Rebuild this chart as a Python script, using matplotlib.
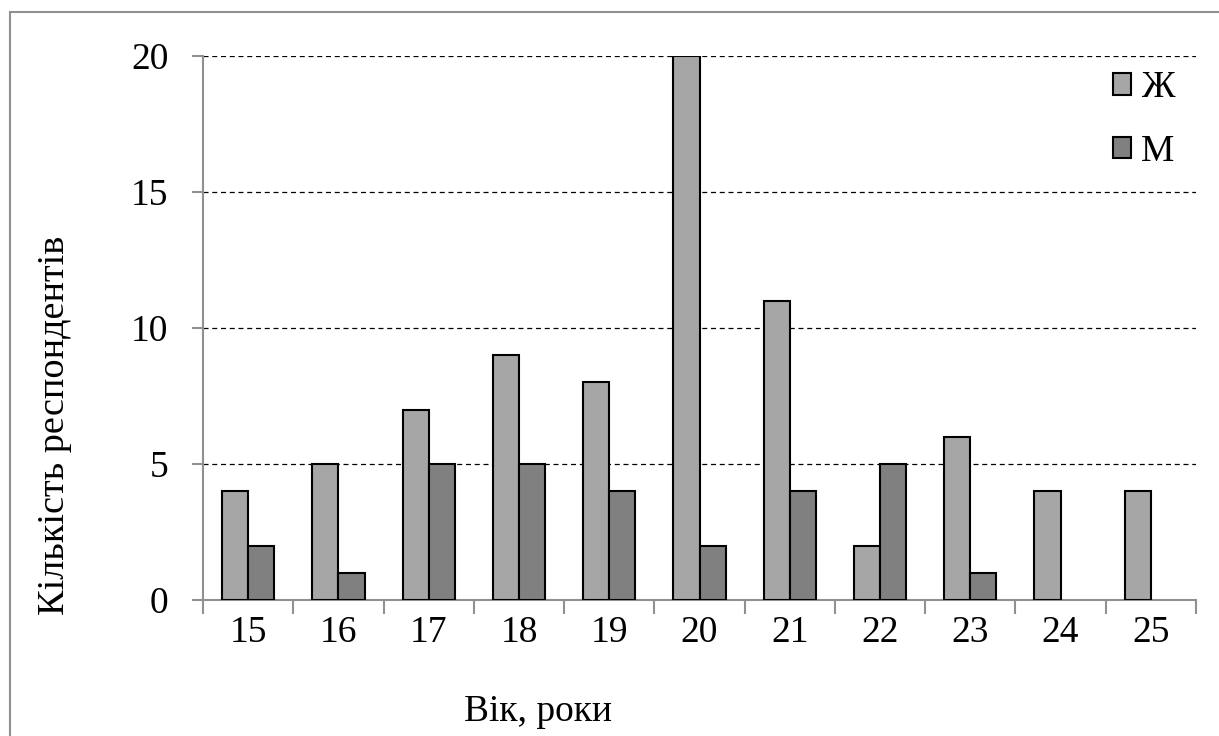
import numpy as np
import matplotlib.pyplot as plt
from matplotlib.patches import Rectangle

# Дані: вік та кількість респондентів
vik = [15, 16, 17, 18, 19, 20, 21, 22, 23, 24, 25]
zhinky = [4, 5, 7, 9, 8, 20, 11, 2, 6, 4, 4]
choloviky = [2, 1, 5, 5, 4, 2, 4, 5, 1, 0, 0]
y_ticks = [0, 5, 10, 15, 20]

plt.rcParams['font.family'] = ['Liberation Serif', 'DejaVu Serif']

fig = plt.figure(figsize=(12.19, 7.36), dpi=100)
ax = fig.add_axes([203/1219, 1-600/736, (1196-203)/1219, (600-56)/736])

x = np.arange(len(vik))
w = 0.29
ax.bar(x - w/2, zhinky, w, color='#a6a6a6', edgecolor='black', linewidth=1.5, label='Ж', zorder=3)
ax.bar(x + w/2, [v if v > 0 else np.nan for v in choloviky], w, color='#808080',
       edgecolor='black', linewidth=1.5, label='М', zorder=3)

ax.set_xlim(-0.5, len(vik) - 0.5)
ax.set_ylim(0, 20)
ax.set_yticks(y_ticks)
ax.set_yticklabels([str(t) for t in y_ticks], fontsize=27)
ax.yaxis.grid(True, linestyle=(0, (4, 3)), color='black', linewidth=0.9, zorder=0)

# підписи категорій по центру, риски на межах
ax.set_xticks(np.arange(len(vik) + 1) - 0.5)
ax.set_xticklabels([])
ax.set_xticks(x, minor=True)
ax.set_xticklabels([str(v) for v in vik], minor=True, fontsize=27)
ax.tick_params(axis='x', which='minor', length=0, pad=11)
ax.tick_params(axis='x', which='major', length=10, width=1.5, color='#909090')
ax.tick_params(axis='y', length=8, width=1.5, color='#909090', pad=17)

for s in ['top', 'right']:
    ax.spines[s].set_visible(False)
for s in ['left', 'bottom']:
    ax.spines[s].set_color('#909090')
    ax.spines[s].set_linewidth(1.5)

fig.text(55/1219, 1-425/736, 'Кількість респондентів', fontsize=27.5, rotation=90,
         ha='center', va='center')
fig.text(538/1219, 1-712/736, 'Вік, роки', fontsize=27, ha='center', va='center')

leg = ax.legend(loc='upper right', bbox_to_anchor=(1.012, 1.035), frameon=False, fontsize=27,
                handlelength=0.5, handleheight=0.5, handletextpad=0.25, labelspacing=0.78)

# рамка навколо діаграми
fig.patches.append(Rectangle((10/1219, -0.1), 1.2, 1-12/736 + 0.1, transform=fig.transFigure,
                             fill=False, edgecolor='#909090', linewidth=1.5))

fig.savefig('out.png', dpi=100)
